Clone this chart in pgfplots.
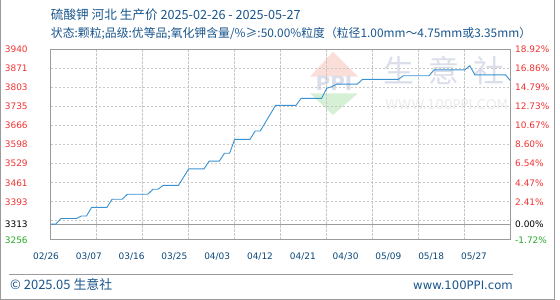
\documentclass[border=0pt]{standalone}
\usepackage{fontspec}
\setmainfont{DejaVu Sans}
\newfontfamily\cjk{Noto Sans CJK SC}
\usepackage{graphicx}
\usepackage{pgfplots}
\pgfplotsset{compat=1.18}
\definecolor{ttl}{RGB}{25,85,140}
\definecolor{lbl}{RGB}{10,70,120}
\definecolor{lred}{RGB}{240,50,50}
\definecolor{lgreen}{RGB}{40,170,40}
\definecolor{pline}{RGB}{55,145,210}
\definecolor{frm}{RGB}{155,155,155}
\definecolor{grd}{RGB}{200,200,200}
\definecolor{wm}{RGB}{218,222,234}
\definecolor{wm2}{RGB}{236,236,236}
\definecolor{wmred}{RGB}{252,222,216}
\definecolor{wmgreen}{RGB}{214,240,214}
\newcommand{\xl}[2]{\makebox[0pt]{\kern#1\relax #2\kern-#1\relax}}
\pgfplotstableread{
d p
0 3313
1 3313
2 3333
5 3333
6 3342
7 3342
8 3373
11 3373
12 3402
14 3402
15 3420
19 3420
20 3438
21 3438
22 3452
25 3452
27 3511
30 3511
31 3539
33 3539
34 3567
35 3567
36 3617
39 3617
40 3647
41 3647
44 3739
48 3739
49 3764
53 3764
54 3800
55 3806
56 3815
60 3815
61 3832
68 3832
69 3845
74 3845
75 3866
81 3866
82 3881
83 3848
89 3848
90 3826
}\pricedata
\begin{document}
\begin{tikzpicture}
\useasboundingbox (0,0) rectangle (560bp,300bp);
% frame
\draw[frm, line width=1bp] (0.5bp,300bp) -- (0.5bp,0.5bp) -- (554.5bp,0.5bp) -- (554.5bp,300bp);
\draw[frm, line width=1bp] (9bp,25bp) -- (513bp,25bp);
% watermark
\fill[wmred] (310bp,223.3bp) -- (358bp,223.3bp) -- (333bp,248.3bp) -- cycle;
\fill[wmgreen] (310bp,206.7bp) -- (358bp,206.7bp) -- (333bp,185bp) -- cycle;
\node[text=wm, font=\bfseries\fontsize{20}{20}\selectfont] at (334bp,217bp) {PPI};
\node[text=wm, font=\cjk\fontsize{31}{31}\selectfont] at (444bp,229bp) {生\hspace{14bp}意\hspace{14bp}社};
\node[text=wm2] at (446.5bp,195bp) {\resizebox{123bp}{10bp}{WWW.100PPI.COM}};
% titles
\node[anchor=west, text=ttl, font=\cjk\fontsize{12.7}{12.7}\selectfont, inner sep=0pt] at (50.7bp,285bp) {硫酸钾 河北 生产价 2025-02-26 - 2025-05-27};
\node[anchor=west, text=ttl, font=\cjk\fontsize{11.9}{11.9}\selectfont, inner sep=0pt] at (50.7bp,266bp) {状态:颗粒;品级:优等品;氧化钾含量/\%≥:50.00\%粒度（粒径1.00mm～4.75mm或3.35mm）};
\node[anchor=west, text=ttl, font=\cjk\fontsize{13}{13}\selectfont, inner sep=0pt] at (10bp,15bp) {© 2025.05 生意社};
\node[anchor=east, text=ttl, font=\fontsize{11.7}{11.7}\selectfont, inner sep=0pt] at (513bp,15bp) {www.100PPI.com};
% main axis
\begin{axis}[
  at={(50.7bp,60bp)}, anchor=south west, scale only axis,
  width=460bp, height=190.7bp,
  xmin=0, xmax=90, ymin=3256, ymax=3940,
  axis line style={frm, line width=1bp},
  major tick length=0pt,
  xtick={0,9,...,90},
  xticklabels={\xl{-4.7bp}{02/26},\xl{-7.9bp}{03/07},\xl{-11.1bp}{03/16},\xl{-14.3bp}{03/25},\xl{-17.5bp}{04/03},\xl{-20.7bp}{04/12},\xl{-23.9bp}{04/21},\xl{-27.1bp}{04/30},\xl{-30.3bp}{05/09},\xl{-33.5bp}{05/18},\xl{-36.7bp}{05/27}},
  xticklabel style={text=lbl, font=\fontsize{9}{10}\selectfont, yshift=-9bp},
  ytick={3256,3324.4,3392.8,3461.2,3529.6,3598,3666.4,3734.8,3803.2,3871.6,3940},
  yticklabels={\textcolor{lgreen}{3256},{},\textcolor{lred}{3393},\textcolor{lred}{3461},\textcolor{lred}{3529},\textcolor{lred}{3598},\textcolor{lred}{3666},\textcolor{lred}{3735},\textcolor{lred}{3803},\textcolor{lred}{3871},\textcolor{lred}{3940}},
  extra y ticks={3313},
  extra y tick labels={\textcolor{black}{3313}},
  extra y tick style={major grid style={solid, frm, line width=1bp}},
  yticklabel style={font=\fontsize{9}{10}\selectfont, anchor=east, xshift=-19.5bp},
  grid=major,
  major grid style={grd, line width=1bp, dash pattern=on 2.5bp off 1.5bp},
  clip=false,
]
\addplot[pline, line width=0.9bp] table[x=d, y=p] {\pricedata};
\end{axis}
% right axis
\begin{axis}[
  at={(50.7bp,60bp)}, anchor=south west, scale only axis,
  width=460bp, height=190.7bp,
  xmin=0, xmax=90, ymin=3256, ymax=3940,
  hide x axis,
  axis y line*=right,
  axis line style={frm, line width=1bp},
  major tick length=0pt,
  ytick={3256,3324.4,3392.8,3461.2,3529.6,3598,3666.4,3734.8,3803.2,3871.6,3940},
  yticklabels={\textcolor{lgreen}{-1.72\%},{},\textcolor{lred}{2.41\%},\textcolor{lred}{4.47\%},\textcolor{lred}{6.54\%},\textcolor{lred}{8.60\%},\textcolor{lred}{10.67\%},\textcolor{lred}{12.73\%},\textcolor{lred}{14.79\%},\textcolor{lred}{16.86\%},\textcolor{lred}{18.92\%}},
  extra y ticks={3313},
  extra y tick labels={\textcolor{black}{0.00\%}},
  yticklabel style={font=\fontsize{9}{10}\selectfont, anchor=west, xshift=1bp},
]
\addplot[draw=none] coordinates {(0,3313)};
\end{axis}
\end{tikzpicture}
\end{document}
